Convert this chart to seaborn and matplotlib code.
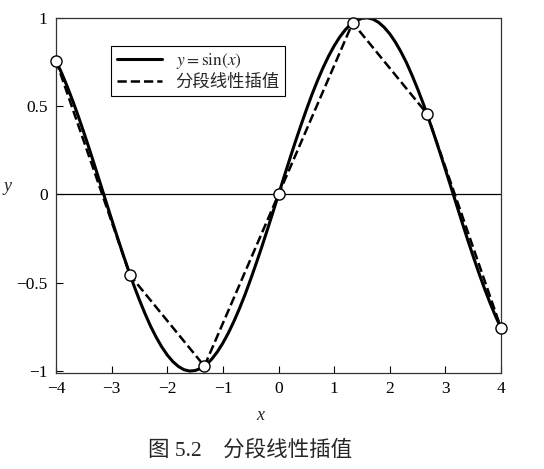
import pandas as pd
import seaborn as sns
import matplotlib.pyplot as plt

# y = sin(x) curve at step 0.1
curve_x = [-4.0, -3.9, -3.8, -3.7, -3.6, -3.5, -3.4, -3.3, -3.2, -3.1,
           -3.0, -2.9, -2.8, -2.7, -2.6, -2.5, -2.4, -2.3, -2.2, -2.1,
           -2.0, -1.9, -1.8, -1.7, -1.6, -1.5, -1.4, -1.3, -1.2, -1.1,
           -1.0, -0.9, -0.8, -0.7, -0.6, -0.5, -0.4, -0.3, -0.2, -0.1,
           0.0, 0.1, 0.2, 0.3, 0.4, 0.5, 0.6, 0.7, 0.8, 0.9,
           1.0, 1.1, 1.2, 1.3, 1.4, 1.5, 1.6, 1.7, 1.8, 1.9,
           2.0, 2.1, 2.2, 2.3, 2.4, 2.5, 2.6, 2.7, 2.8, 2.9,
           3.0, 3.1, 3.2, 3.3, 3.4, 3.5, 3.6, 3.7, 3.8, 3.9, 4.0]
curve_y = [0.757, 0.688, 0.612, 0.530, 0.443, 0.351, 0.256, 0.158, 0.058, -0.042,
           -0.141, -0.239, -0.335, -0.427, -0.516, -0.598, -0.675, -0.746, -0.808, -0.863,
           -0.909, -0.946, -0.974, -0.992, -1.000, -0.997, -0.985, -0.964, -0.932, -0.891,
           -0.841, -0.783, -0.717, -0.644, -0.565, -0.479, -0.389, -0.296, -0.199, -0.100,
           0.0, 0.100, 0.199, 0.296, 0.389, 0.479, 0.565, 0.644, 0.717, 0.783,
           0.841, 0.891, 0.932, 0.964, 0.985, 0.997, 1.000, 0.992, 0.974, 0.946,
           0.909, 0.863, 0.808, 0.746, 0.675, 0.598, 0.516, 0.427, 0.335, 0.239,
           0.141, 0.042, -0.058, -0.158, -0.256, -0.351, -0.443, -0.530, -0.612, -0.688, -0.757]

# interpolation nodes
node_x = [-4.0, -2.667, -1.333, 0.0, 1.333, 2.667, 4.0]
node_y = [0.757, -0.458, -0.972, 0.0, 0.972, 0.458, -0.757]

curve = pd.DataFrame({'x': curve_x, 'y': curve_y})
nodes = pd.DataFrame({'x': node_x, 'y': node_y})

sns.set_style('white')
plt.rcParams['font.family'] = ['Liberation Serif', 'Noto Sans CJK SC', 'DejaVu Sans']
plt.rcParams['mathtext.fontset'] = 'stix'

fig = plt.figure(figsize=(5.44, 4.69), dpi=100)
ax = fig.add_axes([0.103, 0.205, 0.818, 0.757])

ax.axhline(0, color='black', lw=0.9, zorder=1)
sns.lineplot(data=curve, x='x', y='y', sort=False, estimator=None, color='black',
             lw=2.2, ax=ax, label='$y = \\mathrm{sin}(x)$', zorder=2,
             solid_joinstyle='round')
sns.lineplot(data=nodes, x='x', y='y', sort=False, estimator=None, color='black',
             lw=1.8, ls='--', dashes=(3.0, 2.0), ax=ax, label='分段线性插值', zorder=3)
ax.plot(nodes['x'], nodes['y'], 'o', ms=8, mfc='white', mec='black', mew=1.0,
        zorder=4, clip_on=False)

ax.set_xlim(-4, 4)
ax.set_ylim(-1.01, 1.0)
ax.set_xticks([-4, -3, -2, -1, 0, 1, 2, 3, 4])
ax.set_yticks([-1, -0.5, 0, 0.5, 1])
ax.set_yticklabels(['\u22121', '\u22120.5', '0', '0.5', '1'])
ax.tick_params(direction='in', length=5, width=0.8, labelsize=12.5, pad=6,
               bottom=True, left=True, colors='black')
for s in ax.spines.values():
    s.set_color('#333333')
    s.set_linewidth(0.9)

ax.set_xlabel('x', fontsize=13, style='italic')
ax.xaxis.set_label_coords(0.458, -0.095)
ax.set_ylabel('y', fontsize=13, style='italic', rotation=0)
ax.yaxis.set_label_coords(-0.108, 0.5)

leg = ax.legend(loc='upper left', bbox_to_anchor=(0.105, 0.945), fontsize=12.5,
                frameon=True, fancybox=False, edgecolor='black', framealpha=1,
                handlelength=2.6, borderpad=0.3, labelspacing=0.2)
leg.get_frame().set_linewidth(0.8)

fig.text(0.46, 0.04, '图 5.2\u3000分段线性插值', ha='center', va='center', fontsize=15.5)

fig.savefig('out.png', dpi=100, facecolor='white')
